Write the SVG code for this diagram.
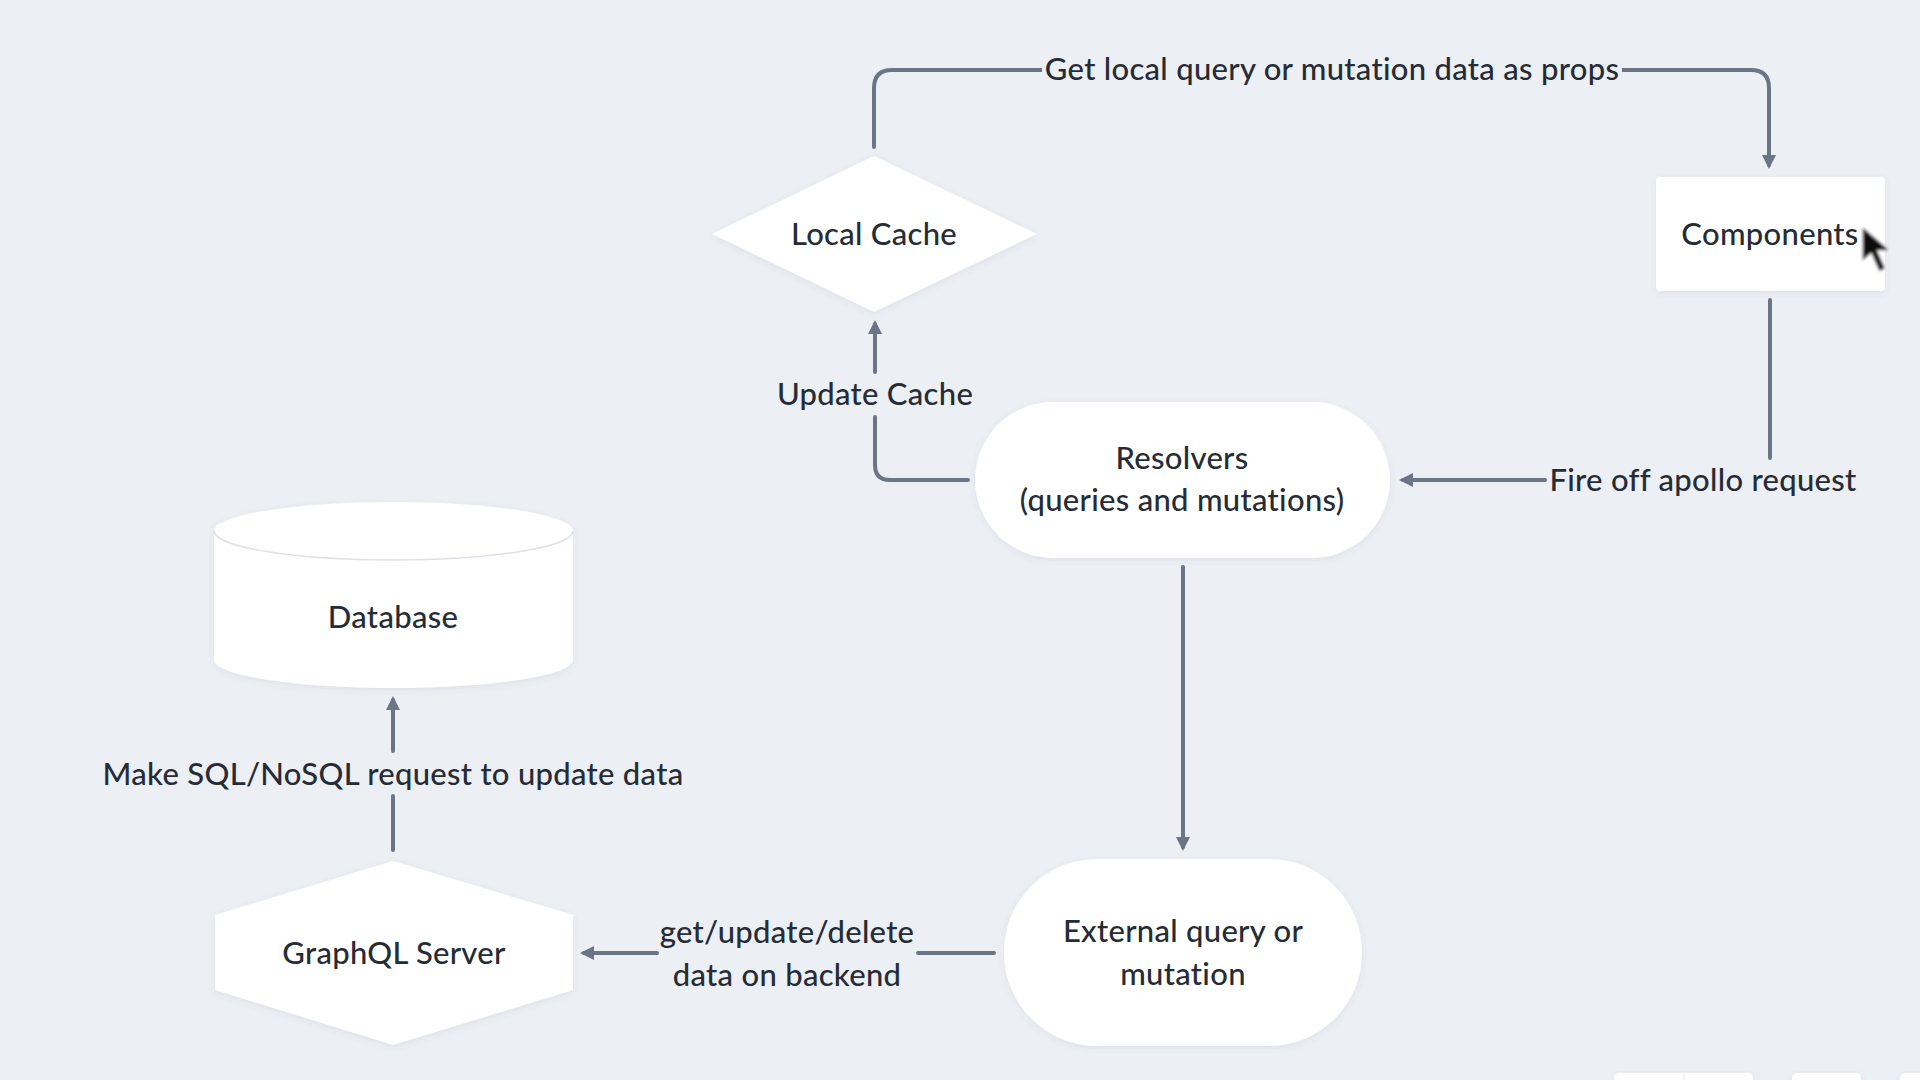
<svg xmlns="http://www.w3.org/2000/svg" width="1920" height="1080" viewBox="0 0 1920 1080">
<style>
  .bg{fill:#eceff4}
  .node{fill:#ffffff;filter:url(#sh)}
  .t{font-family:Lato,"Noto Sans","Liberation Sans",sans-serif;font-size:31px;letter-spacing:0.3px;fill:#262c36;text-anchor:middle;font-weight:500}
  .edge{fill:none;stroke:#6b7585;stroke-width:4;stroke-linecap:round;stroke-linejoin:round}
  .arrow{marker-end:url(#ah)}
  .lblbg{fill:#eceff4}
</style>
<defs>
  <marker id="ah" viewBox="0 0 14 16" refX="10" refY="8" markerWidth="14" markerHeight="16" markerUnits="userSpaceOnUse" orient="auto">
    <path d="M0,1 L14,8 L0,15 Z" fill="#6b7585"/>
  </marker>
  <filter id="sh" x="-10%" y="-10%" width="120%" height="130%">
    <feDropShadow dx="0" dy="2" stdDeviation="3" flood-color="#5a6478" flood-opacity="0.10"/>
  </filter>
  <filter id="blur" x="-50%" y="-50%" width="200%" height="200%">
    <feGaussianBlur stdDeviation="1.6"/>
  </filter>
</defs>
<rect class="bg" x="0" y="0" width="1920" height="1080"/>

<g id="connectors">
  <!-- Local Cache -> Components -->
  <path class="edge arrow" d="M874,147 V88 Q874,70 892,70 H1751 Q1769,70 1769,88 V165"/>
  <rect class="lblbg" x="1042" y="50" width="580" height="40"/>
  <text class="t" x="1332" y="80">Get local query or mutation data as props</text>
  <!-- Components -> Resolvers -->
  <path class="edge" d="M1770,300 V458"/>
  <path class="edge arrow" d="M1545,480 H1403"/>
  <text class="t" x="1703" y="491">Fire off apollo request</text>
  <!-- Resolvers -> Local Cache -->
  <path class="edge" d="M968,480 H890 Q875,480 875,465 V417"/>
  <path class="edge arrow" d="M875,372 V324"/>
  <text class="t" x="875" y="405">Update Cache</text>
  <!-- Resolvers -> External -->
  <path class="edge arrow" d="M1183,567 V847"/>
  <!-- External -> GraphQL -->
  <path class="edge" d="M994,953 H918"/>
  <path class="edge arrow" d="M657,953 H584"/>
  <text class="t" x="787" y="943">get/update/delete</text>
  <text class="t" x="787" y="986">data on backend</text>
  <!-- GraphQL -> Database -->
  <path class="edge" d="M393,850 V796"/>
  <path class="edge arrow" d="M393,751 V700"/>
  <text class="t" x="393" y="785">Make SQL/NoSQL request to update data</text>
</g>

<g id="local-cache">
  <polygon class="node" points="874,156 1037,234 874,312 712,234"/>
  <text class="t" x="874" y="245">Local Cache</text>
</g>

<g id="components">
  <rect class="node" x="1656" y="177" width="229" height="114" rx="4"/>
  <text class="t" x="1770" y="245">Components</text>
</g>

<g id="resolvers">
  <rect class="node" x="975" y="402" width="415" height="156" rx="78"/>
  <text class="t" x="1182" y="469">Resolvers</text>
  <text class="t" x="1182" y="511">(queries and mutations)</text>
</g>

<g id="external">
  <rect class="node" x="1004" y="859" width="358" height="187" rx="93"/>
  <text class="t" x="1183" y="942">External query or</text>
  <text class="t" x="1183" y="985">mutation</text>
</g>

<g id="graphql-server">
  <polygon class="node" points="393,861 573,915 573,990 393,1045 215,990 215,915"/>
  <text class="t" x="394" y="964">GraphQL Server</text>
</g>

<g id="database">
  <path class="node" d="M214,531 A179.5,29 0 0 1 573,531 V660 A179.5,28 0 0 1 214,660 Z"/>
  <path d="M214,531 A179.5,29 0 0 0 573,531" fill="none" stroke="#dde1e7" stroke-width="1.5"/>
  <text class="t" x="393" y="628">Database</text>
</g>

<g id="toolbar">
  <rect class="node" x="1614" y="1073" width="139" height="20" rx="5"/>
  <line x1="1684" y1="1073" x2="1684" y2="1080" stroke="#e3e6eb" stroke-width="1"/>
  <rect class="node" x="1792" y="1073" width="69" height="20" rx="5"/>
  <rect class="node" x="1900" y="1073" width="40" height="20" rx="5"/>
</g>

<g id="cursor" filter="url(#blur)">
  <path d="M1862,226 L1862,262 L1871,254 L1879,272 L1886,269 L1878,251 L1891,251 Z" fill="#111" stroke="#fff" stroke-width="1.5"/>
</g>
</svg>
